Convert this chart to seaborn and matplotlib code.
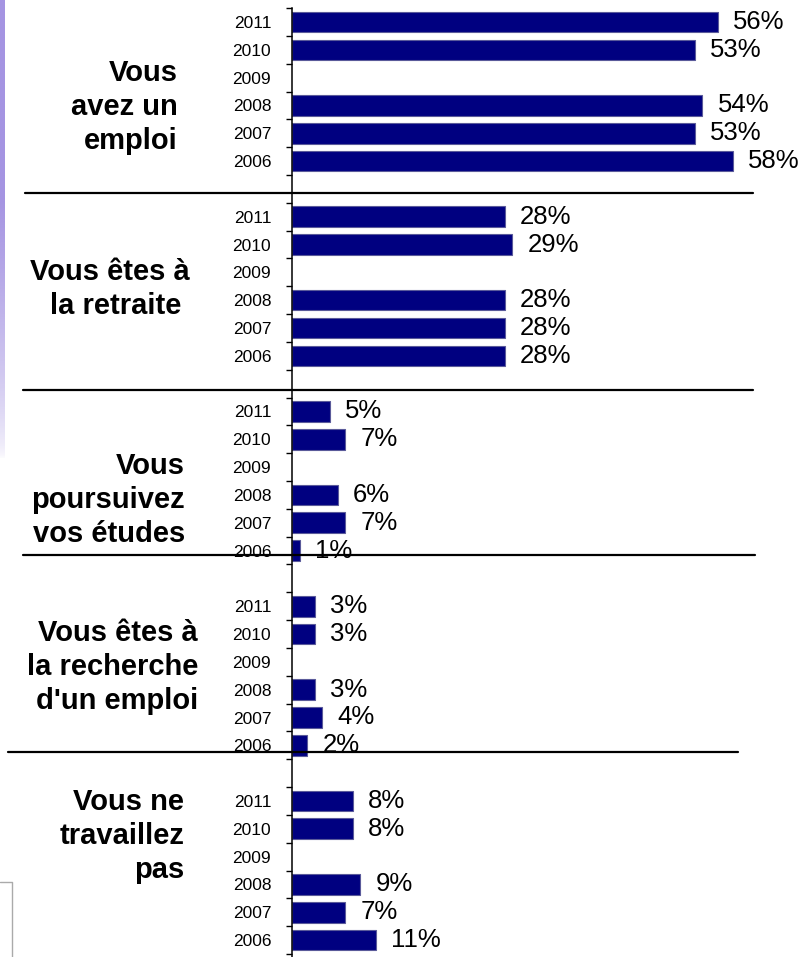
import numpy as np
import pandas as pd
import matplotlib
matplotlib.use('Agg')
import matplotlib.pyplot as plt
import seaborn as sns
from matplotlib.lines import Line2D
from matplotlib.ticker import FixedLocator

# data (None = no survey in 2009)
years = ['2011', '2010', '2009', '2008', '2007', '2006']
groups = ['Vous\navez un\nemploi',
          'Vous êtes à\nla retraite ',
          'Vous\npoursuivez\nvos études',
          'Vous êtes à\nla recherche\nd\'un emploi',
          'Vous ne\ntravaillez\npas']
emploi = [56, 53, None, 54, 53, 58]
retraite = [28, 29, None, 28, 28, 28]
etudes = [5, 7, None, 6, 7, 1]
recherche = [3, 3, None, 3, 4, 2]
sans_travail = [8, 8, None, 9, 7, 11]
series = [emploi, retraite, etudes, recherche, sans_travail]

W, H = 800, 957
slot = 7  # six years + one empty row between blocks

rows = []
for g, vals in enumerate(series):
    for k, v in enumerate(vals):
        if v is not None:
            rows.append({'pos': g * slot + k, 'value': v, 'year': years[k]})
df = pd.DataFrame(rows)

sns.set_style('white')
plt.rcParams['font.family'] = ['Liberation Sans', 'DejaVu Sans']
plt.rcParams['text.color'] = 'black'
plt.rcParams['ytick.color'] = 'black'

fig = plt.figure(figsize=(W / 100, H / 100), dpi=100)
ax = fig.add_axes([292 / W, 0, (W - 292) / W, 1])

sns.barplot(data=df, x='value', y='pos', orient='h', native_scale=True,
            color='#000080', saturation=1, edgecolor='#5a5a9a', linewidth=0.8,
            width=0.74, ax=ax)

px = 27.82  # pixels per row
ax.set_xlim(0, (W - 292) / 7.6)
ax.set_ylim((H - 22) / px, -22 / px)

# year labels on every row, small ticks at row boundaries
year_pos = [g * slot + k for g in range(len(series)) for k in range(len(years))]
ax.set_yticks(year_pos)
ax.set_yticklabels(years * len(series), fontsize=12.5, color='black')
ax.yaxis.set_minor_locator(FixedLocator(np.arange(-0.5, len(series) * slot - 1, 1)))
ax.tick_params(axis='y', which='major', length=0, pad=15)
ax.tick_params(axis='y', which='minor', length=4, width=1, color='black', direction='out', left=True)
ax.set_xticks([])
ax.set_xlabel('')
ax.set_ylabel('')
for s in ['top', 'right', 'bottom']:
    ax.spines[s].set_visible(False)
ax.spines['left'].set_color('black')
ax.spines['left'].set_linewidth(1.1)
ax.spines['left'].set_bounds(-0.5, (H - 22) / px)

for _, r in df.iterrows():
    ax.text(r['value'] + 2.0, r['pos'], f"{int(r['value'])}%", fontsize=18.5,
            ha='left', va='center', color='black')

# group labels on the left
label_right = [178, 190, 185, 198, 184]
label_y = [107, 289, 500, 667, 836]
for name, xr, yc in zip(groups, label_right, label_y):
    fig.text(xr / W, 1 - yc / H, name, fontsize=21, fontweight='bold', color='black',
             ha='right', va='center', multialignment='right', linespacing=1.27)

# separators between blocks
seps = [(193, 25, 753), (390, 23, 753), (555, 23, 755), (752, 8, 738)]
for y, x0, x1 in seps:
    fig.add_artist(Line2D([x0 / W, x1 / W], [1 - y / H, 1 - y / H],
                          transform=fig.transFigure, color='black', lw=1.6))

# lavender strip on the left edge
strip = fig.add_axes([0, 1 - 460 / H, 5 / W, 460 / H])
grad = np.linspace(1, 0, 200) ** 0.6
rgba = np.zeros((200, 1, 4))
rgba[:, 0, :3] = matplotlib.colors.to_rgb('#a594e2')
rgba[:, 0, 3] = np.clip(grad * 1.4, 0, 1)
strip.imshow(rgba[::-1], aspect='auto', origin='lower')
strip.axis('off')

# leftover frame at the bottom left
fig.add_artist(Line2D([0, 12 / W, 12 / W], [1 - 882 / H, 1 - 882 / H, 0],
                      transform=fig.transFigure, color='#aaaaaa', lw=1.0))

fig.savefig('out.png', dpi=100)
